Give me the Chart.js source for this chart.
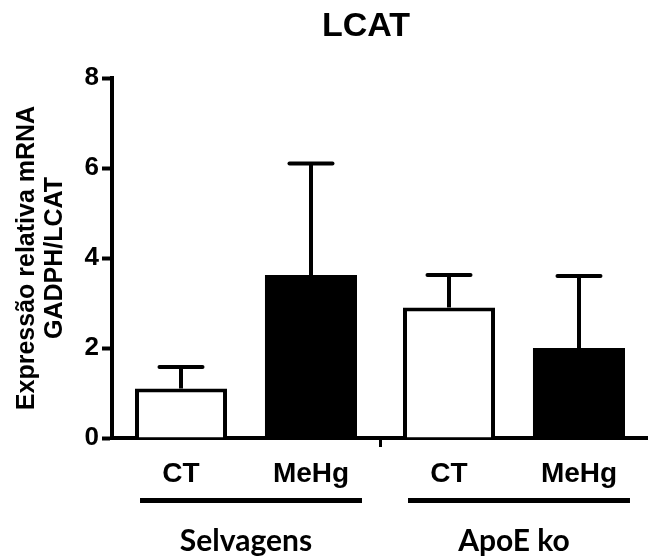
<!DOCTYPE html>
<html>
<head>
<meta charset="utf-8">
<title>LCAT</title>
<script src="https://cdn.jsdelivr.net/npm/chart.js@4.4.0/dist/chart.umd.min.js"></script>
<style>
  html, body { margin: 0; padding: 0; background: #fff; }
  #wrap { width: 648px; height: 559px; position: relative; }
</style>
</head>
<body>
<div id="wrap"><canvas id="lcatChart"></canvas></div>
<script>
const groups = ['Selvagens', 'ApoE ko'];
const ctMeans = [1.1, 2.9];
const ctErrors = [0.48, 0.72];
const mehgMeans = [3.62, 2.0];
const mehgErrors = [2.48, 1.6];
const yTicks = [0, 2, 4, 6, 8];

const FONT = "'Liberation Sans', Arial, sans-serif";

// barras de erro (só para cima)
const errorBars = {
    id: 'errorBars',
    afterDatasetsDraw(chart) {
        const ctx = chart.ctx;
        const y = chart.scales.y;
        ctx.save();
        ctx.strokeStyle = '#000';
        ctx.lineWidth = 4;
        chart.data.datasets.forEach((ds, i) => {
            chart.getDatasetMeta(i).data.forEach((bar, j) => {
                const top = y.getPixelForValue(ds.data[j] + ds.errors[j]);
                ctx.lineCap = 'butt';
                ctx.beginPath();
                ctx.moveTo(bar.x, bar.y);
                ctx.lineTo(bar.x, top);
                ctx.stroke();
                ctx.lineCap = 'round';
                ctx.beginPath();
                ctx.moveTo(bar.x - 21.5, top);
                ctx.lineTo(bar.x + 21.5, top);
                ctx.stroke();
            });
        });
        ctx.restore();
    }
};

// título, eixo y, rótulos CT/MeHg e linhas dos grupos
const labels = {
    id: 'labels',
    afterDraw(chart) {
        const ctx = chart.ctx;
        ctx.save();
        ctx.fillStyle = '#000';

        ctx.font = 'bold 34px ' + FONT;
        ctx.textAlign = 'center';
        ctx.textBaseline = 'alphabetic';
        ctx.fillText('LCAT', 366, 36);

        ctx.save();
        ctx.translate(0, 258);
        ctx.rotate(-Math.PI / 2);
        ctx.font = 'bold 25px ' + FONT;
        ctx.fillText('Expressão relativa mRNA', 0, 34);
        ctx.fillText('GADPH/LCAT', 0, 62);
        ctx.restore();

        ctx.font = 'bold 28px ' + FONT;
        const metas = chart.data.datasets.map((ds, i) => chart.getDatasetMeta(i));
        chart.data.datasets.forEach((ds, i) => {
            metas[i].data.forEach(bar => ctx.fillText(ds.label, bar.x, 482));
        });

        ctx.lineWidth = 5;
        ctx.strokeStyle = '#000';
        groups.forEach((g, j) => {
            const left = metas[0].data[j].x - 41;
            const right = metas[1].data[j].x + 51;
            ctx.beginPath();
            ctx.moveTo(left, 500.5);
            ctx.lineTo(right, 500.5);
            ctx.stroke();
        });
        ctx.restore();
    }
};

new Chart(document.getElementById('lcatChart').getContext('2d'), {
    type: 'bar',
    data: {
        labels: groups,
        datasets: [{
            label: 'CT',
            data: ctMeans,
            errors: ctErrors,
            backgroundColor: '#fff',
            borderColor: '#000',
            borderWidth: 4,
            borderSkipped: 'bottom'
        }, {
            label: 'MeHg',
            data: mehgMeans,
            errors: mehgErrors,
            backgroundColor: '#000',
            borderColor: '#000',
            borderWidth: 0
        }]
    },
    options: {
        responsive: true,
        maintainAspectRatio: false,
        animation: false,
        categoryPercentage: 0.97,
        barPercentage: 0.708,
        layout: { padding: { top: 78, left: 0, right: 0, bottom: 0 } },
        plugins: {
            legend: { display: false },
            title: { display: false },
            tooltip: { enabled: false }
        },
        scales: {
            x: {
                grid: {
                    display: true,
                    drawOnChartArea: false,
                    offset: true,
                    tickLength: 9,
                    tickWidth: 3,
                    tickColor: (c) => c.index === 1 ? '#000' : 'rgba(0,0,0,0)'
                },
                border: { display: true, color: '#000', width: 4 },
                ticks: {
                    color: '#000',
                    padding: 76,
                    font: { family: "Lato, 'Open Sans', sans-serif", size: 30, weight: 'bold' }
                },
                afterFit: (scale) => { scale.height = 121; }
            },
            y: {
                min: 0,
                max: 8,
                afterBuildTicks: (scale) => { scale.ticks = yTicks.map(v => ({ value: v })); },
                grid: {
                    drawOnChartArea: false,
                    tickLength: 10,
                    tickWidth: 4,
                    tickColor: '#000'
                },
                border: { display: true, color: '#000', width: 4 },
                ticks: {
                    color: '#000',
                    padding: 3,
                    font: { family: FONT, size: 26, weight: 'bold' }
                },
                afterFit: (scale) => { scale.width = 112; }
            }
        }
    },
    plugins: [errorBars, labels]
});
</script>
</body>
</html>
